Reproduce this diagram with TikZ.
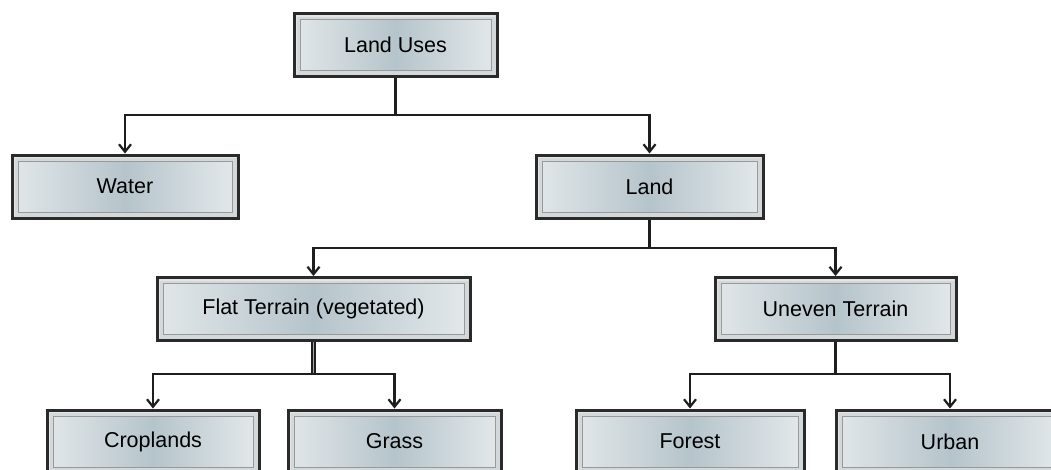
\documentclass[tikz,border=0pt]{standalone}
\usepackage{fontspec}
\setmainfont{Liberation Sans}
\usetikzlibrary{arrows.meta}
\definecolor{boxborder}{HTML}{2A2A2A}
\definecolor{bandcol}{HTML}{D3D8DA}
\definecolor{panelL}{HTML}{E2E7E9}
\definecolor{panelM}{HTML}{B5C4CB}
\definecolor{panelR}{HTML}{E4E9EB}
\definecolor{linecol}{HTML}{1E1E1E}
\tikzset{
  tbox/.style={draw=boxborder, line width=3pt, fill=bandcol,
    minimum height=63pt, inner sep=0pt,
    font=\fontsize{21.5}{24}\selectfont,
    path picture={
      \shade[left color=panelL, right color=panelR, middle color=panelM]
        ([shift={(6pt,-6pt)}]path picture bounding box.north west) rectangle
        ([shift={(-6pt,6pt)}]path picture bounding box.south east);
      \draw[gray!80, line width=0.8pt]
        ([shift={(6pt,-6pt)}]path picture bounding box.north west) rectangle
        ([shift={(-6pt,6pt)}]path picture bounding box.south east);
      \draw[white!80!gray, line width=1.2pt]
        ([shift={(2.5pt,2.5pt)}]path picture bounding box.south west) --
        ([shift={(2.5pt,-2.5pt)}]path picture bounding box.north west) --
        ([shift={(-2.5pt,-2.5pt)}]path picture bounding box.north east);
    }},
  conn/.style={draw=linecol, line width=2.2pt},
  arr/.style={conn, -{Straight Barb[length=7.5pt,width=12pt,line width=2.2pt]}},
  dbl/.style={draw=linecol, line width=1.4pt, double=gray!70, double distance=1.4pt}
}
\begin{document}
\begin{tikzpicture}[x=1pt,y=-1pt]
\useasboundingbox (0,0) rectangle (1051,469);
\clip (0,0) rectangle (1051,469);
\node[tbox, minimum width=203pt] (LU) at (395.5,45) {Land Uses};
\node[tbox, minimum width=226pt] (W) at (125,186.5) {Water};
\node[tbox, minimum width=227pt] (L) at (649.5,186.5) {Land};
\node[tbox, minimum width=313pt] (F) at (313.5,309) {Flat Terrain (vegetated)};
\node[tbox, minimum width=241pt] (U) at (835.5,309) {Uneven Terrain};
\node[tbox, minimum width=212pt] (C) at (153,441.5) {Croplands};
\node[tbox, minimum width=213pt] (G) at (394.5,441.5) {Grass};
\node[tbox, minimum width=228pt] (Fo) at (690,441.5) {Forest};
\node[tbox, minimum width=228pt] (Ur) at (950,441.5) {Urban};
\coordinate (b1) at (0,115);
\coordinate (b2) at (0,248);
\coordinate (b3) at (0,374);
% level 1
\draw[conn] (LU.south) -- (LU.south |- b1);
\draw[arr] (LU.south |- b1) -| (W.north);
\draw[arr] (LU.south |- b1) -| (L.north);
% level 2
\draw[conn] (L.south) -- (L.south |- b2);
\draw[arr] (L.south |- b2) -| (F.north);
\draw[arr] (L.south |- b2) -| (U.north);
% level 3
\draw[dbl] (F.south) -- (F.south |- b3);
\draw[arr] (F.south |- b3) -| (C.north);
\draw[arr] (F.south |- b3) -| (G.north);
\draw[conn] (U.south) -- (U.south |- b3);
\draw[arr] (U.south |- b3) -| (Fo.north);
\draw[arr] (U.south |- b3) -| (Ur.north);
\end{tikzpicture}
\end{document}
